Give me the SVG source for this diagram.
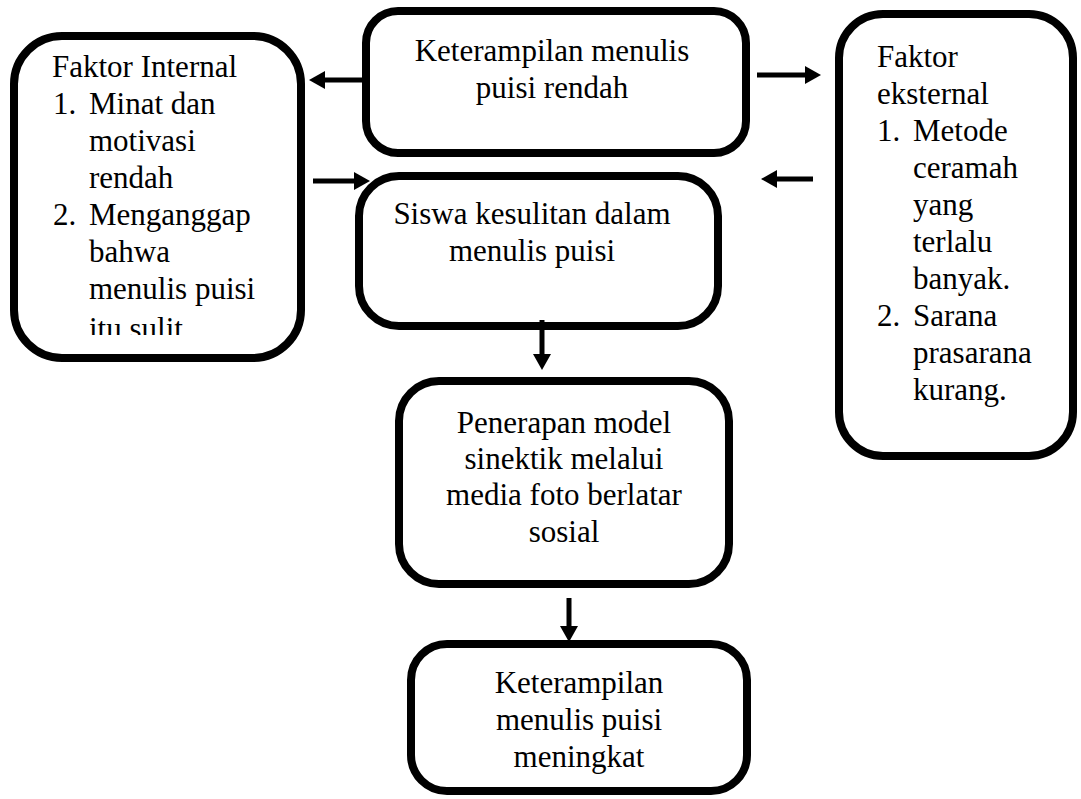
<svg xmlns="http://www.w3.org/2000/svg" width="1081" height="799" viewBox="0 0 1081 799">
<style>
.box{fill:#fff;stroke:#000;stroke-width:8}
.t{font-family:"Liberation Serif","Times New Roman",serif;font-size:31px;fill:#000}
.c{text-anchor:middle}
.conn{stroke:#000;stroke-width:5;fill:none}
</style>
<defs>
<marker id="ah" viewBox="0 0 16 18" refX="0" refY="9" markerWidth="16" markerHeight="18" markerUnits="userSpaceOnUse" orient="auto">
<path d="M0,0 L16,9 L0,18 Z" fill="#000"/>
</marker>
<clipPath id="clipL"><rect x="0" y="0" width="320" height="335"/></clipPath>
</defs>
<rect width="1081" height="799" fill="#fff"/>

<g id="n-internal">
<rect class="box" x="14" y="36" width="287" height="322" rx="48"/>
<g clip-path="url(#clipL)" class="t">
<text x="52" y="77">Faktor Internal</text>
<text x="53" y="114">1.</text><text x="89" y="114">Minat dan</text>
<text x="89" y="151">motivasi</text>
<text x="89" y="188">rendah</text>
<text x="53" y="225">2.</text><text x="89" y="225">Menganggap</text>
<text x="89" y="262">bahwa</text>
<text x="89" y="299">menulis puisi</text>
<text x="89" y="339">itu sulit.</text>
</g>
</g>

<g id="n-rendah">
<rect class="box" x="366" y="11" width="380" height="142" rx="32"/>
<text class="t c" x="552" y="61">Keterampilan menulis</text>
<text class="t c" x="552" y="98">puisi rendah</text>
</g>

<g id="n-eksternal">
<rect class="box" x="839" y="14" width="234" height="442" rx="44"/>
<g class="t">
<text x="877" y="67">Faktor</text>
<text x="877" y="104">eksternal</text>
<text x="877" y="141">1.</text><text x="913" y="141">Metode</text>
<text x="913" y="178">ceramah</text>
<text x="913" y="215">yang</text>
<text x="913" y="252">terlalu</text>
<text x="913" y="289">banyak.</text>
<text x="877" y="326">2.</text><text x="913" y="326">Sarana</text>
<text x="913" y="363">prasarana</text>
<text x="913" y="400">kurang.</text>
</g>
</g>

<g id="n-siswa">
<rect class="box" x="359" y="176" width="359" height="150" rx="40"/>
<text class="t c" x="532" y="224">Siswa kesulitan dalam</text>
<text class="t c" x="532" y="261">menulis puisi</text>
</g>

<g id="n-penerapan">
<rect class="box" x="399" y="381" width="330" height="203" rx="40"/>
<text class="t c" x="564" y="433">Penerapan model</text>
<text class="t c" x="564" y="469">sinektik melalui</text>
<text class="t c" x="564" y="505">media foto berlatar</text>
<text class="t c" x="564" y="542">sosial</text>
</g>

<g id="n-meningkat">
<rect class="box" x="411" y="644" width="336" height="147" rx="36"/>
<text class="t c" x="579" y="693">Keterampilan</text>
<text class="t c" x="579" y="730">menulis puisi</text>
<text class="t c" x="579" y="767">meningkat</text>
</g>

<g id="connectors" class="conn">
<line x1="362" y1="80" x2="325" y2="80" marker-end="url(#ah)"/>
<line x1="757" y1="75" x2="805" y2="75" marker-end="url(#ah)"/>
<line x1="313" y1="181" x2="354" y2="181" marker-end="url(#ah)"/>
<line x1="813" y1="179" x2="777" y2="179" marker-end="url(#ah)"/>
<line x1="542" y1="320" x2="542" y2="354" marker-end="url(#ah)"/>
<line x1="569" y1="598" x2="569" y2="626" marker-end="url(#ah)"/>
</g>
</svg>
